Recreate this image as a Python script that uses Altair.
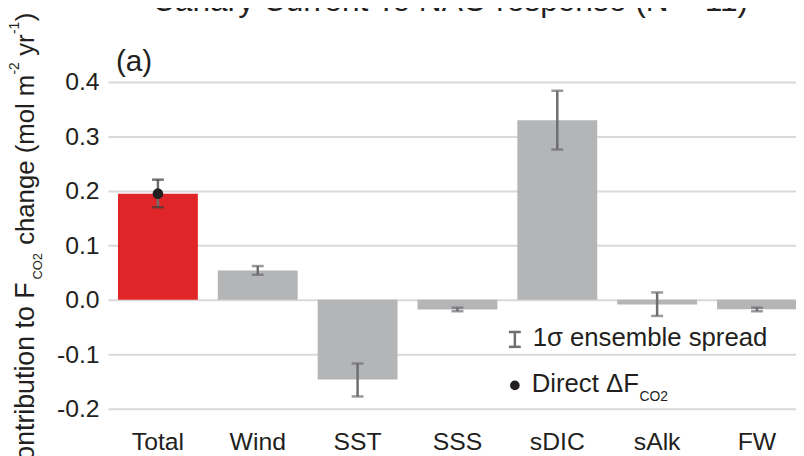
import altair as alt
import pandas as pd

# ---- data ----
categories = ["Total", "Wind", "SST", "SSS", "sDIC", "sAlk", "FW"]
values = [0.195, 0.054, -0.1465, -0.018, 0.330, -0.0085, -0.0175]
err_low = [0.170, 0.046, -0.1775, -0.021, 0.276, -0.0296, -0.021]
err_high = [0.2207, 0.062, -0.117, -0.0145, 0.384, 0.0135, -0.0145]
kinds = ["total", "part", "part", "part", "part", "part", "part"]
direct_cat = ["Total"]
direct_val = [0.195]
y_ticks = [-0.2, -0.1, 0.0, 0.1, 0.2, 0.3, 0.4]

df = pd.DataFrame({"cat": categories, "value": values, "lo": err_low,
                   "hi": err_high, "kind": kinds})
dfd = pd.DataFrame({"cat": direct_cat, "value": direct_val})
one = pd.DataFrame({"k": [0]})

FONT = "Liberation Sans"
TXT = "#231f20"
RED = "#e02528"
GRAY = "#b4b5b7"
ERR = "#6d6e70"
ERR_T = "#3c3c3c"

W, H = 695, 330

xscale = alt.Scale(domain=categories, range=[0, 706], paddingInner=0.2, paddingOuter=0.1)
xaxis = alt.Axis(title=None, labelAngle=0, labelFontSize=25, labelFont=FONT,
                 labelColor=TXT, ticks=False, tickSize=0, domain=False,
                 labelBaseline="alphabetic", labelPadding=41)
yscale = alt.Scale(domain=[-0.2, 0.4], nice=False, zero=False)
yaxis = alt.Axis(title=None, values=y_ticks,
                 labelExpr="(datum.value < 0 ? '-' : '') + format(abs(datum.value), '.1f')",
                 labelFontSize=25, labelFont=FONT, labelColor=TXT, labelPadding=9,
                 ticks=False, tickSize=0, domain=False, grid=True,
                 gridColor="#d9d9d9", gridWidth=2)

X = alt.X("cat:N", scale=xscale, axis=xaxis, sort=categories)

bars = alt.Chart(df).mark_bar().encode(
    x=X,
    y=alt.Y("value:Q", scale=yscale, axis=yaxis),
    fill=alt.Fill("kind:N", scale=alt.Scale(domain=["total", "part"], range=[RED, GRAY]), legend=None),
)

stems = alt.Chart(df).mark_rule(strokeWidth=2.5).encode(
    x=X,
    y=alt.Y("lo:Q", scale=yscale, axis=yaxis),
    y2="hi:Q",
    stroke=alt.Stroke("kind:N", scale=alt.Scale(domain=["total", "part"], range=[ERR, ERR]), legend=None),
)

caps = alt.Chart(df).transform_fold(["lo", "hi"], as_=["end", "ev"]).mark_tick(
    size=12, thickness=2.5, orient="horizontal"
).encode(
    x=X,
    y=alt.Y("ev:Q", scale=yscale, axis=yaxis),
    color=alt.Color("kind:N", scale=alt.Scale(domain=["total", "part"], range=[ERR_T, ERR]), legend=None),
)

point = alt.Chart(dfd).mark_circle(size=115, color=TXT, opacity=1).encode(
    x=X,
    y=alt.Y("value:Q", scale=yscale, axis=yaxis),
)


def txt(s, x, y, size, align="left", angle=0, color=TXT):
    return alt.Chart(one).mark_text(
        text=s, align=align, baseline="alphabetic", angle=angle,
        fontSize=size, font=FONT, color=color
    ).encode(x=alt.value(x), y=alt.value(y))


def rule(x1, x2, y1, y2, color, w):
    return alt.Chart(one).mark_rule(color=color, strokeWidth=w).encode(
        x=alt.value(x1), x2=alt.value(x2), y=alt.value(y1), y2=alt.value(y2))


# plot origin on the page is about (109, 80.5)
OX, OY = 109, 80.5

def px(v):
    return v - OX

def py(v):
    return v - OY

annotations = [
    txt("Canary Current To NAO response (N = 11)", px(454.5), py(8.5), 32, align="center"),
    txt("(a)", px(117), py(69.5), 30),
    # rotated y-axis title pieces
    txt("Contribution to F", px(34), py(283), 27, align="right", angle=270),
    txt("CO2", px(42), py(280), 13, align="left", angle=270),
    txt("change (mol m", px(34), py(245), 26, align="left", angle=270),
    txt("-2", px(19), py(73), 14, align="left", angle=270),
    txt("yr", px(34), py(54), 26, align="left", angle=270),
    txt("-1", px(19), py(32), 14, align="left", angle=270),
    txt(")", px(34), py(19), 26, align="left", angle=270),
    # legend
    rule(px(520), px(520), py(333), py(348), ERR, 2.5),
    rule(px(514), px(526), py(333), py(333), ERR, 2.5),
    rule(px(514), px(526), py(348), py(348), ERR, 2.5),
    txt("1\u03c3 ensemble spread", px(538), py(347), 26),
    alt.Chart(one).mark_circle(size=95, color=TXT, opacity=1).encode(
        x=alt.value(px(520)), y=alt.value(py(387))),
    txt("Direct \u0394F", px(537), py(393.5), 26),
    txt("CO2", px(646), py(402.5), 14),
]

chart = alt.layer(bars, stems, caps, point, *annotations).resolve_scale(
    color="independent", fill="independent", stroke="independent"
).properties(
    width=W, height=H,
    autosize=alt.AutoSizeParams(type="none"),
    padding={"left": 101, "top": 72.5, "right": 0, "bottom": 45.5},
    background="white",
).configure_view(stroke=None)

chart.save("out.html", embed_options={"renderer": "svg", "actions": False})
